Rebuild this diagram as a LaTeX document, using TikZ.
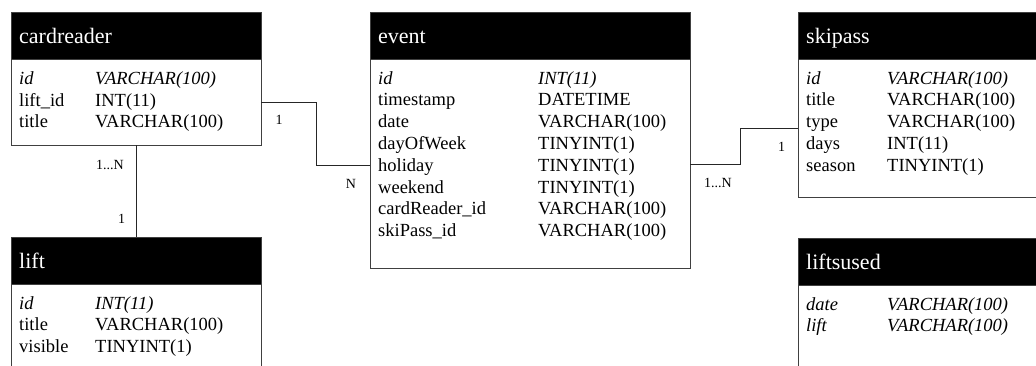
\documentclass[tikz,border=0pt]{standalone}
\usepackage{fontspec}
\setmainfont{Liberation Serif}
\usetikzlibrary{calc}
\tikzset{
 tbl/.style={draw=black!75, line width=1pt, fill=white, anchor=north west, inner sep=0pt, outer sep=0pt},
 hdr/.style={fill=black, draw=black!75, line width=1pt, anchor=north west, inner sep=0pt, outer sep=0pt, minimum height=47pt},
 htext/.style={text=white, font=\fontsize{22}{26}\selectfont, anchor=base west, inner sep=0pt},
 ftext/.style={font=\fontsize{18.5}{22}\selectfont, anchor=base west, inner sep=0pt},
 fitext/.style={font=\fontsize{18.5}{22}\selectfont\itshape, anchor=base west, inner sep=0pt},
 conn/.style={draw=black!85, line width=1pt},
 card/.style={font=\fontsize{14}{16}\selectfont, inner sep=0pt},
}
\begin{document}
\begin{tikzpicture}[x=1pt,y=-1pt]
\useasboundingbox (0,0) rectangle (1036,365);
\clip (0,0) rectangle (1036,365);

% ---------- cardreader
\node[tbl, minimum width=250pt, minimum height=133pt] (cardreader) at (11,12) {};
\node[hdr, minimum width=250pt] (cardreaderH) at (11,12) {};
\node[htext] (cardreaderT) at (19,43) {cardreader};
\node[fitext] (cr1a) at (19,84.5) {id};
\node[fitext] (cr1b) at (95,84.5) {VARCHAR(100)};
\node[ftext] (cr2a) at (19,106) {lift\_id};
\node[ftext] (cr2b) at (95,106) {INT(11)};
\node[ftext] (cr3a) at (19,127.5) {title};
\node[ftext] (cr3b) at (95,127.5) {VARCHAR(100)};

% ---------- lift
\node[tbl, minimum width=250pt, minimum height=200pt] (lift) at (11,237) {};
\node[hdr, minimum width=250pt] (liftH) at (11,237) {};
\node[htext] (liftT) at (19,268) {lift};
\node[fitext] (li1a) at (19,309) {id};
\node[fitext] (li1b) at (95,309) {INT(11)};
\node[ftext] (li2a) at (19,330.5) {title};
\node[ftext] (li2b) at (95,330.5) {VARCHAR(100)};
\node[ftext] (li3a) at (19,352) {visible};
\node[ftext] (li3b) at (95,352) {TINYINT(1)};

% ---------- event
\node[tbl, minimum width=320pt, minimum height=256pt] (event) at (370,12) {};
\node[hdr, minimum width=320pt] (eventH) at (370,12) {};
\node[htext] (eventT) at (378,43) {event};
\node[fitext] (ev1a) at (378,84) {id};
\node[fitext] (ev1b) at (538,84) {INT(11)};
\node[ftext] (ev2a) at (378,105.8) {timestamp};
\node[ftext] (ev2b) at (538,105.8) {DATETIME};
\node[ftext] (ev3a) at (378,127.6) {date};
\node[ftext] (ev3b) at (538,127.6) {VARCHAR(100)};
\node[ftext] (ev4a) at (378,149.4) {dayOfWeek};
\node[ftext] (ev4b) at (538,149.4) {TINYINT(1)};
\node[ftext] (ev5a) at (378,171.2) {holiday};
\node[ftext] (ev5b) at (538,171.2) {TINYINT(1)};
\node[ftext] (ev6a) at (378,193) {weekend};
\node[ftext] (ev6b) at (538,193) {TINYINT(1)};
\node[ftext] (ev7a) at (378,214.8) {cardReader\_id};
\node[ftext] (ev7b) at (538,214.8) {VARCHAR(100)};
\node[ftext] (ev8a) at (378,236.6) {skiPass\_id};
\node[ftext] (ev8b) at (538,236.6) {VARCHAR(100)};

% ---------- skipass
\node[tbl, minimum width=300pt, minimum height=185pt] (skipass) at (798,12) {};
\node[hdr, minimum width=300pt] (skipassH) at (798,12) {};
\node[htext] (skipassT) at (806,43) {skipass};
\node[fitext] (sk1a) at (806,84) {id};
\node[fitext] (sk1b) at (887,84) {VARCHAR(100)};
\node[ftext] (sk2a) at (806,105.8) {title};
\node[ftext] (sk2b) at (887,105.8) {VARCHAR(100)};
\node[ftext] (sk3a) at (806,127.6) {type};
\node[ftext] (sk3b) at (887,127.6) {VARCHAR(100)};
\node[ftext] (sk4a) at (806,149.4) {days};
\node[ftext] (sk4b) at (887,149.4) {INT(11)};
\node[ftext] (sk5a) at (806,171.2) {season};
\node[ftext] (sk5b) at (887,171.2) {TINYINT(1)};

% ---------- liftsused
\node[tbl, minimum width=300pt, minimum height=200pt] (liftsused) at (798,238) {};
\node[hdr, minimum width=300pt] (liftsusedH) at (798,238) {};
\node[htext] (liftsusedT) at (806,269) {liftsused};
\node[fitext] (lu1a) at (806,310) {date};
\node[fitext] (lu1b) at (887,310) {VARCHAR(100)};
\node[fitext] (lu2a) at (806,331.5) {lift};
\node[fitext] (lu2b) at (887,331.5) {VARCHAR(100)};

% ---------- connectors
\coordinate (crout) at ($(cardreader.north east)+(0,90)$);
\coordinate (evin) at ($(event.north west)+(0,153)$);
\draw[conn] (crout) -- ++(55,0) |- (evin);
\draw[conn] (cardreader.south) -- (liftH.north);
\coordinate (evout) at ($(event.north east)+(0,152)$);
\coordinate (skin) at ($(skipass.north west)+(0,116)$);
\draw[conn] (evout) -- ++(50,0) |- (skin);

% ---------- cardinalities
\node[card] (m1) at (279,120) {1};
\node[card] (m2) at (351,184) {N};
\node[card] (m3) at (110,165) {1...N};
\node[card] (m4) at (121.5,219) {1};
\node[card] (m5) at (781.5,147) {1};
\node[card] (m6) at (718,183) {1...N};
\end{tikzpicture}
\end{document}
